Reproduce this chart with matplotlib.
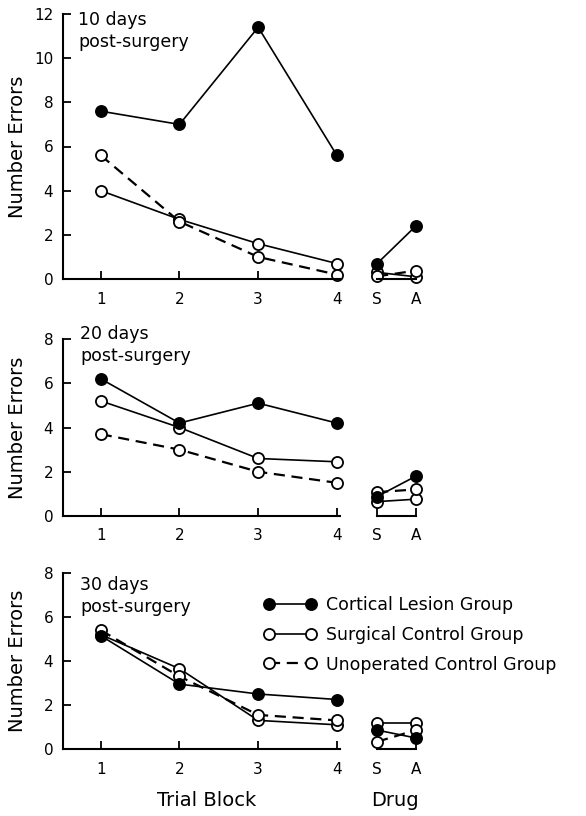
import matplotlib
matplotlib.use("Agg")
import matplotlib.pyplot as plt

plt.rcParams['font.family'] = ['DejaVu Sans']

blocks = [1, 2, 3, 4]
drug_labels = ["S", "A"]
panel_titles = ["10 days\npost-surgery", "20 days\npost-surgery", "30 days\npost-surgery"]
y_max = [12, 8, 8]

# trial block data, one list per panel
cortical = [[7.6, 7.0, 11.4, 5.6],
            [6.2, 4.2, 5.1, 4.2],
            [5.15, 2.95, 2.5, 2.25]]
surgical = [[4.0, 2.7, 1.6, 0.7],
            [5.2, 4.0, 2.6, 2.45],
            [5.2, 3.65, 1.3, 1.1]]
unoperated = [[5.6, 2.6, 1.0, 0.2],
              [3.7, 3.0, 2.0, 1.5],
              [5.4, 3.3, 1.55, 1.3]]

# drug data (S, A)
cortical_drug = [[0.7, 2.4], [0.88, 1.8], [0.86, 0.5]]
surgical_drug = [[0.3, 0.1], [0.65, 0.76], [1.17, 1.17]]
unoperated_drug = [[0.12, 0.38], [1.08, 1.2], [0.33, 0.86]]

W, H = 586, 816
fig = plt.figure(figsize=(W / 100, H / 100), dpi=100)

# pixel boxes (top, bottom) for each panel
rows = [(14, 279), (339, 516), (573, 749)]
title_pos = [(78, 11), (80, 325), (80, 576)]

styles = {
    "cortical": dict(color="black", ls="-", lw=1.2, marker="o", mfc="black", mec="black"),
    "surgical": dict(color="black", ls="-", lw=1.2, marker="o", mfc="white", mec="black"),
    "unoperated": dict(color="black", ls=(0, (5, 3)), lw=1.6, marker="o", mfc="white", mec="black"),
}
common = dict(ms=8, mew=1.3)

handles = []
for i in range(3):
    top, bot = rows[i]
    ax = fig.add_axes([63 / W, 1 - bot / H, (340 - 63) / W, (bot - top) / H])
    axd = fig.add_axes([376 / W, 1 - bot / H, (417 - 376) / W, (bot - top) / H])

    h1, = ax.plot(blocks, cortical[i], label="Cortical Lesion Group", **styles["cortical"], **common, zorder=3)
    h2, = ax.plot(blocks, surgical[i], label="Surgical Control Group", **styles["surgical"], **common, zorder=2)
    h3, = ax.plot(blocks, unoperated[i], label="Unoperated Control Group", **styles["unoperated"], **common, zorder=2)
    if i == 2:
        handles = [h1, h2, h3]

    axd.plot([0, 1], surgical_drug[i], **styles["surgical"], **common, zorder=2)
    axd.plot([0, 1], unoperated_drug[i], **styles["unoperated"], **common, zorder=2)
    axd.plot([0, 1], cortical_drug[i], **styles["cortical"], **common, zorder=3)

    ax.set_xlim(0.52, 4.04)
    ax.set_ylim(0, y_max[i])
    ax.set_xticks(blocks)
    ax.set_yticks(range(0, y_max[i] + 1, 2))
    for s in ["top", "right"]:
        ax.spines[s].set_visible(False)
    for s in ["left", "bottom"]:
        ax.spines[s].set_linewidth(1.5)
    ax.tick_params(direction="in", length=6, width=1.3, labelsize=11, pad=9)
    ax.tick_params(axis="y", pad=7)
    ax.set_ylabel("Number Errors", fontsize=14)
    ax.yaxis.set_label_coords(-0.13, 0.5)
    for c in (ax, axd):
        for ln in c.lines:
            ln.set_clip_on(False)

    axd.set_xlim(-0.03, 1.03)
    axd.set_ylim(0, y_max[i])
    axd.set_xticks([0, 1])
    axd.set_xticklabels(drug_labels)
    axd.set_yticks([])
    for s in ["top", "right", "left"]:
        axd.spines[s].set_visible(False)
    axd.spines["bottom"].set_linewidth(1.5)
    axd.spines["bottom"].set_bounds(0, 1)
    axd.patch.set_alpha(0)
    axd.tick_params(direction="in", length=6, width=1.3, labelsize=11, pad=9)

    tx, ty = title_pos[i]
    fig.text(tx / W, 1 - ty / H, panel_titles[i], fontsize=12.5, va="top", ha="left", linespacing=1.3)

fig.legend(handles=handles, loc="upper left", bbox_to_anchor=(257 / W, 1 - 589 / H),
           frameon=False, numpoints=2, handlelength=3.0, handletextpad=0.6,
           labelspacing=0.68, fontsize=12.5, borderaxespad=0)

fig.text(207 / W, 1 - 800 / H, "Trial Block", fontsize=14, ha="center", va="center")
fig.text(395 / W, 1 - 800 / H, "Drug", fontsize=14, ha="center", va="center")

fig.savefig("out.png", dpi=100)
